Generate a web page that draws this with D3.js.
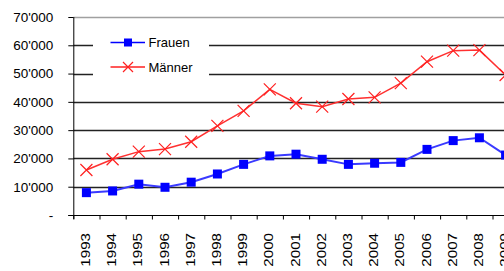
<!DOCTYPE html>
<meta charset="utf-8">
<script src="https://d3js.org/d3.v7.min.js"></script>
<style>
    body { margin: 0; background: white; }
    svg { display: block; font-family: "Liberation Sans", Arial, sans-serif; }
</style>
<body>
<div id="chart"></div>
<script>
    const width = 504, height = 271;

    const years = ["1993", "1994", "1995", "1996", "1997", "1998", "1999", "2000", "2001",
        "2002", "2003", "2004", "2005", "2006", "2007", "2008", "2009"];
    const frauen = [7900, 8500, 10900, 9800, 11600, 14500, 17900, 20900, 21500,
        19700, 17900, 18300, 18600, 23200, 26300, 27300, 21200];
    const maenner = [15900, 19700, 22400, 23300, 25900, 31500, 36800, 44400, 39500,
        38300, 41000, 41600, 46600, 54200, 58100, 58300, 49500];
    const yTicks = [0, 10000, 20000, 30000, 40000, 50000, 60000, 70000];

    const svg = d3.select("#chart").append("svg")
        .attr("width", width)
        .attr("height", height);

    const left = 73.3, bandW = 26.2;
    var x = d3.scaleBand()
        .domain(years)
        .range([left, left + bandW * years.length])
        .padding(0);
    var y = d3.scaleLinear()
        .domain([0, 70000])
        .range([215, 17]);

    const fmt = v => v === 0 ? "-" : d3.format(",")(v).replace(/,/g, "'");

    // gridlines
    svg.append("g")
        .selectAll("line")
        .data(yTicks.filter(d => d > 0))
        .join("line")
        .attr("x1", left)
        .attr("x2", width)
        .attr("y1", d => Math.round(y(d)) + 0.5)
        .attr("y2", d => Math.round(y(d)) + 0.5)
        .attr("stroke", d => d === 70000 ? "#a0a0a0" : "#222")
        .attr("stroke-width", 1.3);

    // y axis
    var yAxis = svg.append("g")
        .attr("transform", "translate(" + left + ",0)")
        .call(d3.axisLeft(y).tickValues(yTicks).tickSize(5).tickPadding(15).tickFormat(fmt));
    yAxis.select(".domain").attr("stroke", "#000").attr("d", "M0.5," + y(70000) + "V219");
    yAxis.selectAll(".tick text")
        .attr("font-size", "13.5px")
        .attr("font-family", "Liberation Sans, Arial, sans-serif")
        .attr("fill", "#000");
    yAxis.selectAll(".tick line").attr("stroke", "#000");

    // x axis
    var xAxis = svg.append("g")
        .attr("transform", "translate(0," + y(0) + ")")
        .call(d3.axisBottom(x).tickSize(0).tickPadding(0));
    xAxis.select(".domain").remove();
    xAxis.append("line")
        .attr("x1", left - 5).attr("x2", width)
        .attr("y1", 0.5).attr("y2", 0.5)
        .attr("stroke", "#000");
    xAxis.selectAll(".boundary")
        .data(years)
        .join("line")
        .attr("class", "boundary")
        .attr("x1", d => x(d) + 0.5).attr("x2", d => x(d) + 0.5)
        .attr("y1", 0).attr("y2", 4.5)
        .attr("stroke", "#000");
    xAxis.selectAll(".tick text")
        .attr("font-size", "13.5px")
        .attr("font-family", "Liberation Sans, Arial, sans-serif")
        .attr("fill", "#000")
        .attr("text-anchor", "end")
        .attr("dy", null)
        .attr("transform", "translate(" + (x.bandwidth() / 2 - 13) + ",18) rotate(-90) scale(1.12,1)")
        .attr("x", 0)
        .attr("y", 0)
        .attr("dominant-baseline", "middle");

    const cx = d => x(d) + x.bandwidth() / 2;

    // Männer
    var mLine = d3.line().x((d, i) => cx(years[i])).y(d => y(d));
    svg.append("path")
        .datum(maenner)
        .attr("fill", "none")
        .attr("stroke", "#ff3030")
        .attr("stroke-width", 1.5)
        .attr("d", mLine);
    svg.append("g")
        .selectAll("path")
        .data(maenner)
        .join("path")
        .attr("transform", (d, i) => "translate(" + cx(years[i]) + "," + y(d) + ")")
        .attr("d", "M-6,-6L6,6M-6,6L6,-6")
        .attr("stroke", "#ff2020")
        .attr("stroke-width", 1.2);

    // Frauen
    svg.append("path")
        .datum(frauen)
        .attr("fill", "none")
        .attr("stroke", "#3a3aff")
        .attr("stroke-width", 2)
        .attr("d", mLine);
    svg.append("g")
        .selectAll("rect")
        .data(frauen)
        .join("rect")
        .attr("x", (d, i) => cx(years[i]) - 4.5)
        .attr("y", d => y(d) - 4.5)
        .attr("width", 9)
        .attr("height", 9)
        .attr("fill", "#0000ff");

    // legend
    var legend = svg.append("g");
    legend.append("rect")
        .attr("x", 93).attr("y", 28)
        .attr("width", 116).attr("height", 54)
        .attr("fill", "white");
    const legendItems = [
        {name: "Frauen", color: "#0000ff", y: 42.5},
        {name: "Männer", color: "#ff2020", y: 67}
    ];
    legendItems.forEach(function (d, i) {
        legend.append("line")
            .attr("x1", 110.5).attr("x2", 145)
            .attr("y1", d.y).attr("y2", d.y)
            .attr("stroke", d.color)
            .attr("stroke-width", 1.5);
        if (i === 0) {
            legend.append("rect")
                .attr("x", 128 - 4).attr("y", d.y - 4)
                .attr("width", 8).attr("height", 8)
                .attr("fill", d.color);
        } else {
            legend.append("path")
                .attr("transform", "translate(128," + d.y + ")")
                .attr("d", "M-5,-5L5,5M-5,5L5,-5")
                .attr("stroke", d.color)
                .attr("stroke-width", 1.2);
        }
        legend.append("text")
            .attr("x", 148.5)
            .attr("y", d.y)
            .attr("dy", "0.35em")
            .attr("font-size", "13px")
            .text(d.name);
    });
</script>
</body>
